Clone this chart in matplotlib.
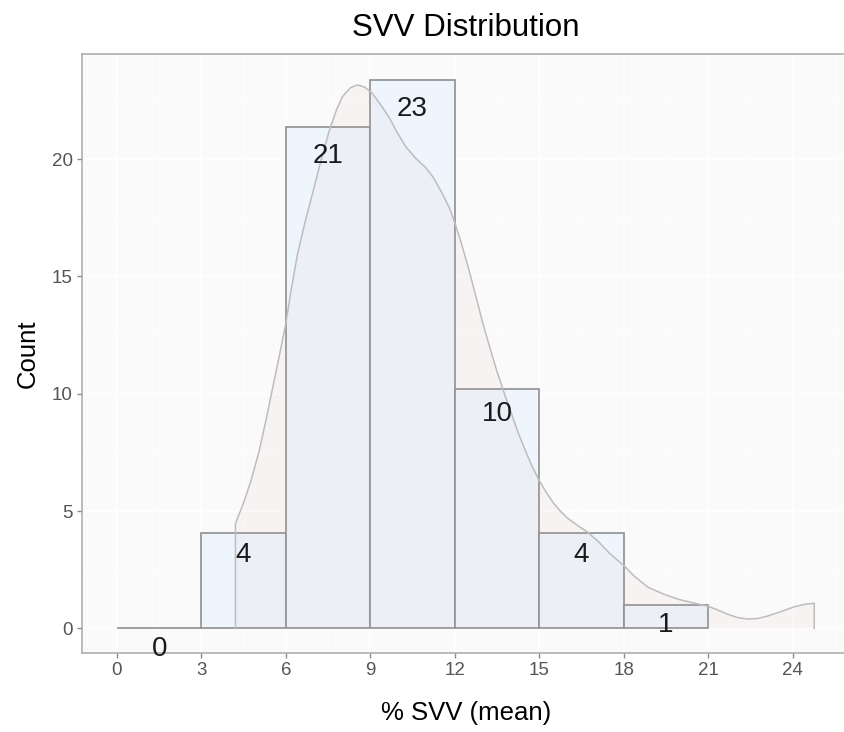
import matplotlib
matplotlib.use("Agg")
import matplotlib.pyplot as plt
import numpy as np

plt.rcParams['font.family'] = ['Liberation Sans', 'DejaVu Sans']

# Histogram bins (left edges, width 3) and counts
bin_left = [0, 3, 6, 9, 12, 15, 18]
counts = [0, 4, 21, 23, 10, 4, 1]
# bar heights as drawn in the picture
bar_heights = [0, 4.05, 21.38, 23.37, 10.2, 4.05, 1.0]

# density curve scaled to counts
dens_x = [4.21, 4.5, 4.77, 5.05, 5.3, 5.55, 5.8, 6.0, 6.2, 6.42, 6.7, 6.95, 7.25, 7.54,
          7.8, 8.01, 8.3, 8.54, 8.8, 9.07, 9.35, 9.66, 9.95, 10.25, 10.6, 10.96,
          11.25, 11.55, 11.8, 12.0, 12.25, 12.5, 12.75, 13.0, 13.25, 13.5, 13.75,
          14.0, 14.25, 14.5, 14.75, 15.0, 15.25, 15.5, 15.75, 16.0, 16.35, 16.74,
          17.1, 17.5, 18.0, 18.4, 18.87, 19.5, 20.0, 20.5, 21.0, 21.35, 21.7, 22.05,
          22.4, 22.75, 23.1, 23.6, 24.06, 24.45, 24.77]
dens_y = [4.47, 5.35, 6.32, 7.55, 8.9, 10.35, 11.8, 13.0, 14.5, 15.98, 17.4, 18.54,
          19.95, 21.2, 22.1, 22.66, 23.05, 23.16, 23.07, 22.8, 22.35, 21.8, 21.15,
          20.55, 20.05, 19.65, 19.2, 18.55, 17.95, 17.3, 16.35, 15.3, 14.15, 13.0,
          11.95, 10.95, 10.05, 9.2, 8.35, 7.6, 6.9, 6.3, 5.8, 5.35, 5.0, 4.7, 4.4,
          4.08, 3.7, 3.2, 2.68, 2.2, 1.75, 1.42, 1.22, 1.08, 0.94, 0.78, 0.6, 0.46,
          0.4, 0.42, 0.52, 0.72, 0.92, 1.03, 1.07]

x_ticks = [0, 3, 6, 9, 12, 15, 18, 21, 24]
y_ticks = [0, 5, 10, 15, 20]

fig = plt.figure(figsize=(8.44, 7.32), dpi=100)
ax = fig.add_axes([82/844, 79/732, 768/844, 599/732])
ax.set_facecolor('#FAFAFA')

ax.set_xlim(-1.24, 26.04)
ax.set_ylim(-1.05, 24.48)
ax.set_xticks(x_ticks)
ax.set_yticks(y_ticks)
ax.set_xticks(np.arange(1.5, 26, 3), minor=True)
ax.set_yticks(np.arange(2.5, 24, 5), minor=True)
ax.grid(True, which='major', color='white', lw=1.1, zorder=0)
ax.grid(True, which='minor', color='white', lw=0.55, zorder=0)
ax.set_axisbelow(True)

ax.bar(bin_left, bar_heights, width=3, align='edge', color='#EEF5FD',
       edgecolor='#939393', linewidth=1.25, zorder=2)

px = [dens_x[0]] + dens_x + [dens_x[-1]]
py = [0] + dens_y + [0]
ax.fill(px, py, facecolor='#D9A0A0', alpha=0.07, edgecolor='none', zorder=3)
ax.plot(px, py, color='#BDBDBD', lw=1.1, zorder=4, solid_joinstyle='round')

for l, c in zip(bin_left, counts):
    ax.annotate(str(c), xy=(l + 1.5, c), xytext=(0, -14.5), textcoords='offset points',
                ha='center', va='center', fontsize=20, color='#1A1A1A', zorder=5)

for s in ax.spines.values():
    s.set_color('#A8A8A8')
    s.set_linewidth(1.1)
ax.tick_params(axis='both', which='major', colors='#8A8A8A', length=3.5, width=1.0,
               labelsize=13.5, labelcolor='#555555', pad=3)
ax.tick_params(which='minor', length=0)

ax.set_xlabel('% SVV (mean)', fontsize=18.5, color='black', labelpad=16)
ax.set_ylabel('Count', fontsize=18.5, color='black', labelpad=9)
ax.set_title('SVV Distribution', fontsize=22.5, color='black', pad=13)

fig.savefig('out.png', dpi=100, facecolor='white')
